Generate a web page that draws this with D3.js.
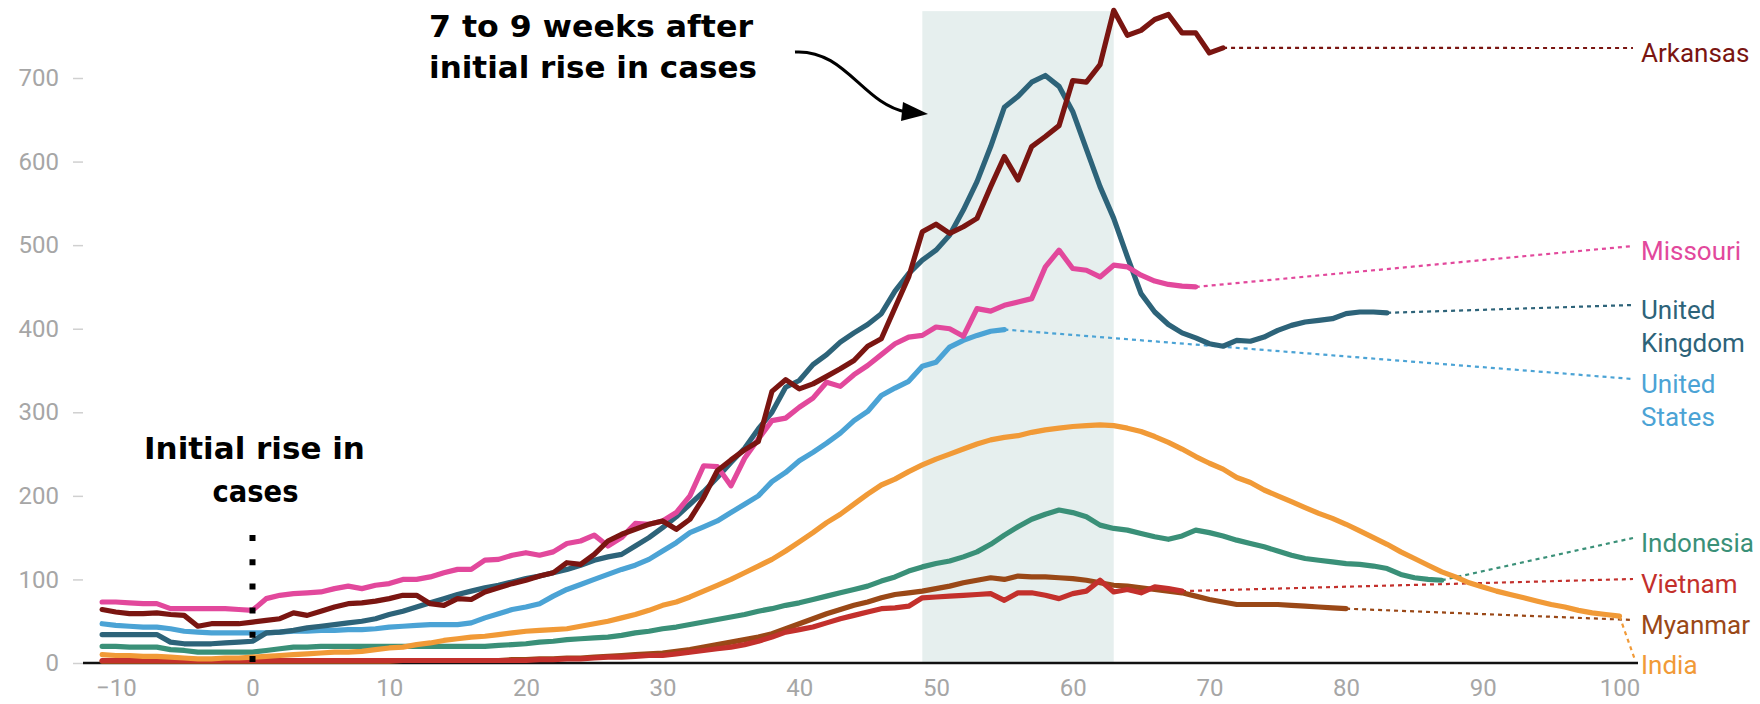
<!DOCTYPE html>
<html><head><meta charset="utf-8">
<script src="https://cdn.jsdelivr.net/npm/d3@7"></script>
<style>
html,body{margin:0;padding:0;background:#fff;}
svg{display:block;}
</style></head>
<body>
<svg id="chart" width="1760" height="704"></svg>
<script>
// ---------------- DATA ----------------
const startDay = -11; // every series begins on this day, one value per day
const arkansas = [64,61,59,59,60,58,57,44,47,47,47,49,
  51,53,60,57,62,67,71,72,74,77,
  81,81,71,69,77,76,85,90,95,99,
  104,108,120,118,130,146,154,160,166,170,
  160,172,198,230,243,255,265,325,339,328,
  334,343,352,362,379,388,425,462,516,525,
  514,522,532,570,606,578,618,630,643,697,
  695,716,781,751,757,770,776,754,754,730,
  736];
const missouri = [73,73,72,71,71,65,65,65,65,65,64,63,
  77,81,83,84,85,89,92,89,93,95,
  100,100,103,108,112,112,123,124,129,132,
  129,133,143,146,153,140,150,167,166,170,
  180,200,236,235,212,245,268,290,293,306,
  317,336,331,345,356,369,382,390,392,402,
  400,391,424,421,428,432,436,474,494,472,
  470,462,476,474,464,457,453,451,450];
const unitedKingdom = [34,34,34,34,34,25,23,23,23,24,25,26,
  36,37,39,42,44,46,48,50,53,58,
  62,67,72,77,82,86,90,93,97,101,
  104,108,112,117,123,127,130,140,150,162,
  175,190,205,222,240,257,280,300,330,338,
  357,369,384,395,405,418,445,466,482,494,
  512,542,576,618,665,678,695,703,690,660,
  615,570,532,486,442,420,405,395,389,382,
  379,386,385,390,398,404,408,410,412,418,
  420,420,419];
const unitedStates = [47,45,44,43,43,41,38,37,36,36,36,36,
  36,37,38,38,39,39,40,40,41,43,
  44,45,46,46,46,48,54,59,64,67,
  71,80,88,94,100,106,112,117,124,134,
  144,156,163,170,180,190,200,217,228,242,
  252,263,275,290,301,320,329,337,355,360,
  378,386,392,397,399];
const india = [10,9,9,8,8,7,6,5,5,6,6,7,
  8,9,10,11,12,13,13,14,16,18,
  19,22,24,27,29,31,32,34,36,38,
  39,40,41,44,47,50,54,58,63,69,
  73,79,86,93,100,108,116,124,134,145,
  156,168,178,190,202,213,220,229,237,244,
  250,256,262,267,270,272,276,279,281,283,
  284,285,284,281,277,271,264,256,247,239,
  232,222,216,207,200,193,186,179,173,166,
  158,150,142,133,125,117,109,103,96,91,
  86,82,78,74,70,67,63,60,58,56];
const indonesia = [20,20,19,19,19,16,15,13,13,13,13,13,
  15,17,19,19,20,20,20,20,20,20,
  20,20,20,20,20,20,20,21,22,23,
  25,26,28,29,30,31,33,36,38,41,
  43,46,49,52,55,58,62,65,69,72,
  76,80,84,88,92,98,103,110,115,119,
  122,127,133,142,153,163,172,178,183,180,
  175,165,161,159,155,151,148,152,159,156,
  152,147,143,139,134,129,125,123,121,119,
  118,116,113,106,102,100,99];
const vietnam = [3,3,3,3,3,3,3,3,3,3,3,3,
  3,3,3,3,3,3,3,3,3,3,
  3,3,3,3,3,3,3,3,3,3,
  4,4,5,5,6,7,7,8,9,9,
  11,13,15,17,19,22,26,31,37,40,
  43,48,53,57,61,65,66,68,78,79,
  80,81,82,83,75,84,84,81,77,83,
  86,99,85,88,84,91,89,86];
const myanmar = [2,2,2,2,2,2,2,2,2,2,2,2,
  2,2,2,2,2,2,2,2,2,2,
  3,3,3,3,3,3,3,3,4,4,
  5,5,6,6,7,8,9,10,11,12,
  14,16,19,22,25,28,31,35,41,47,
  53,59,64,69,73,78,82,84,86,89,
  92,96,99,102,100,104,103,103,102,101,
  99,96,93,92,90,88,86,84,80,76,
  73,70,70,70,70,69,68,67,66,65];

const seriesNames = ["Myanmar","Vietnam","Indonesia","India","United States","United Kingdom","Missouri","Arkansas"];
const seriesValues = [myanmar, vietnam, indonesia, india, unitedStates, unitedKingdom, missouri, arkansas];
const labelLines = [["Myanmar"],["Vietnam"],["Indonesia"],["India"],["United","States"],["United","Kingdom"],["Missouri"],["Arkansas"]];
const xTicks = [-10,0,10,20,30,40,50,60,70,80,90,100];
const yTicks = [0,100,200,300,400,500,600,700];
const bandDays = [49, 63];      // 7 to 9 weeks
const bandTopValue = 780;
const annotationTop = ["7 to 9 weeks after","initial rise in cases"];
const annotationLeft = ["Initial rise in","cases"];

// ---------------- STYLE / LAYOUT ----------------
const colors = {
  "Myanmar":"#9a4817","Vietnam":"#c3302c","Indonesia":"#3a9078","India":"#f19a37",
  "United States":"#4ba3d5","United Kingdom":"#2d6379","Missouri":"#e2489c","Arkansas":"#7a1511"
};
const labelAnchorY = { // pixel y where the leader line meets the label
  "Arkansas":48,"Missouri":246,"United Kingdom":305,"United States":379,
  "Indonesia":538,"Vietnam":579,"Myanmar":620,"India":660
};
const leaderEndX = 1633, labelX = 1641;

const svg = d3.select("#chart");
const x = d3.scaleLinear().domain([-10,100]).range([115.8,1619.5]);
const y = d3.scaleLinear().domain([0,700]).range([663,78]);

// shaded band
svg.append("rect")
  .attr("x", x(bandDays[0])).attr("width", x(bandDays[1]) - x(bandDays[0]))
  .attr("y", y(bandTopValue)).attr("height", y(0) - y(bandTopValue))
  .attr("fill", "#e6efee");

// y axis
const yAxis = svg.append("g").attr("transform","translate(83,0)")
  .call(d3.axisLeft(y).tickValues(yTicks).tickSize(10).tickPadding(14));
yAxis.select(".domain").remove();
yAxis.selectAll(".tick line").attr("stroke","#d0d0d0").attr("stroke-width",1.5);
yAxis.selectAll(".tick text").attr("fill","#a6a6a6")
  .style("font-family","Roboto").style("font-size","24px");

// x axis
const xAxis = svg.append("g").attr("transform",`translate(0,${y(0)})`)
  .call(d3.axisBottom(x).tickValues(xTicks).tickSize(0).tickPadding(16));
xAxis.select(".domain").remove();
xAxis.selectAll(".tick text").attr("fill","#a6a6a6")
  .style("font-family","Roboto").style("font-size","24px");

// baseline
svg.append("line").attr("x1",83).attr("x2",1638).attr("y1",y(0)).attr("y2",y(0))
  .attr("stroke","#111").attr("stroke-width",2.5);

const series = seriesNames.map((name,i)=>({
  name, color: colors[name], lines: labelLines[i],
  values: seriesValues[i].map((v,j)=>({day:startDay+j, value:v}))
}));

// leader lines
svg.append("g").selectAll("line").data(series).join("line")
  .attr("x1", d=>x(d.values[d.values.length-1].day))
  .attr("y1", d=>y(d.values[d.values.length-1].value))
  .attr("x2", d=> d.name==="India" ? leaderEndX+2 : leaderEndX)
  .attr("y2", d=>labelAnchorY[d.name])
  .attr("stroke", d=>d.color).attr("stroke-width",2.2)
  .attr("stroke-dasharray","4,4");

// series lines
const line = d3.line().x(d=>x(d.day)).y(d=>y(d.value));
svg.append("g").selectAll("path").data(series).join("path")
  .attr("d", d=>line(d.values))
  .attr("fill","none").attr("stroke", d=>d.color).attr("stroke-width",5.2)
  .attr("stroke-linejoin","round").attr("stroke-linecap","round");

// labels
const lab = svg.append("g").selectAll("text").data(series).join("text")
  .attr("x", labelX).attr("y", d=>labelAnchorY[d.name]+14)
  .attr("fill", d=>d.color)
  .style("font-family","Roboto").style("font-size","26px");
lab.selectAll("tspan").data(d=>d.lines).join("tspan")
  .attr("x", labelX).attr("dy",(d,i)=> i===0 ? 0 : 33).text(d=>d);

// day-0 dotted marker
svg.append("line").attr("x1",x(0)).attr("x2",x(0)).attr("y1",535).attr("y2",662)
  .attr("stroke","#000").attr("stroke-width",6).attr("stroke-dasharray","6,18.2");

const annoFont = t => t.style("font-family","'DejaVu Sans'").style("font-weight","700")
  .style("font-size","31px").attr("fill","#000").attr("text-anchor","middle");
function anno(txt, cx, by, w){
  const t = svg.append("text").call(annoFont).attr("x",cx).attr("y",by).text(txt);
  const len = t.node().getComputedTextLength();
  if (Math.abs(len - w) > 2) t.attr("textLength", w).attr("lengthAdjust","spacingAndGlyphs");
}
anno(annotationTop[0], 591, 37, 324);
anno(annotationTop[1], 593, 78, 329);
anno(annotationLeft[0], x(0)+2, 459, 221);
anno(annotationLeft[1], x(0)+3, 502, 86);

// arrow
svg.append("path").attr("d","M795,52 C845,49 863,104 906,112")
  .attr("fill","none").attr("stroke","#000").attr("stroke-width",3);
svg.append("path").attr("d","M903,102 L928,114 L901,121 Z").attr("fill","#000");
</script>
</body></html>
